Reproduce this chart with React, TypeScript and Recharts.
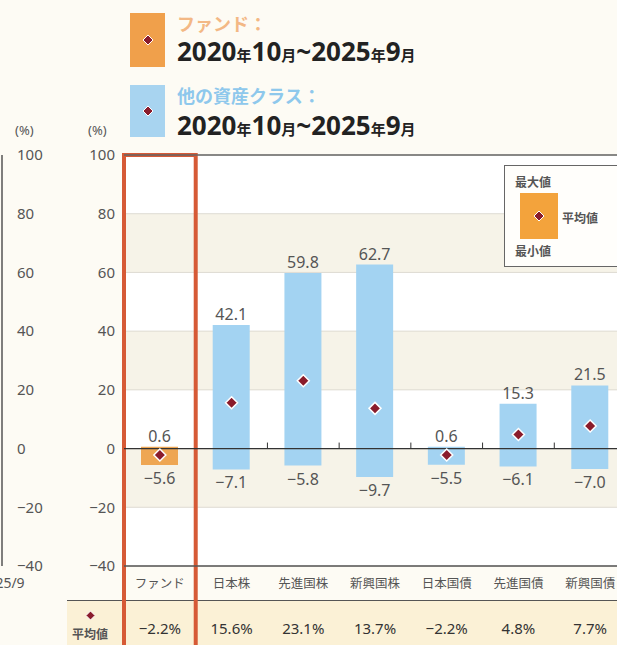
import React from "react";
import {
  ComposedChart,
  Bar,
  Line,
  XAxis,
  YAxis,
  CartesianGrid,
  ReferenceLine,
  ReferenceArea,
  LabelList,
  Cell,
} from "recharts";

// 5年間の騰落率（最大値・最小値・平均値）
const categories = ["ファンド", "日本株", "先進国株", "新興国株", "日本国債", "先進国債", "新興国債"];
const maxValues = [0.6, 42.1, 59.8, 62.7, 0.6, 15.3, 21.5];
const minValues = [-5.6, -7.1, -5.8, -9.7, -5.5, -6.1, -7.0];
const avgValues = [-2.2, 15.6, 23.1, 13.7, -2.2, 4.8, 7.7];
const yTicks = [-40, -20, 0, 20, 40, 60, 80, 100];
// 左隣のグラフ（切れている部分）の最終月
const prevMonths = ["2025/7", "2025/8", "2025/9"];

const FUND_COLOR = "#eea653";
const ASSET_COLOR = "#a3d3f2";
const DOT_COLOR = "#8a1c2c";
const FRAME_COLOR = "#d65a36";
const FONT = '"Noto Sans", "Noto Sans CJK JP", sans-serif';

const data = categories.map((name, i) => ({
  name,
  range: [minValues[i], maxValues[i]],
  avg: avgValues[i],
}));
const prevData = prevMonths.map((month) => ({ month }));

const fmt = (v: number) => (v < 0 ? "−" + Math.abs(v).toFixed(1) : v.toFixed(1));
const fmtTick = (v: number) => (v < 0 ? "−" + Math.abs(v) : String(v));

function Diamond({ cx, cy, r = 6 }: any) {
  if (cx == null || cy == null) return null;
  return (
    <path
      d={`M${cx} ${cy - r} L${cx + r} ${cy} L${cx} ${cy + r} L${cx - r} ${cy} Z`}
      fill={DOT_COLOR}
      stroke="#fff"
      strokeWidth={1.5}
    />
  );
}

function RangeLabels(props: any) {
  const { x, y, width, height, index } = props;
  const top = Math.min(y, y + height);
  const bottom = Math.max(y, y + height);
  const cx = x + width / 2;
  return (
    <g fontSize={16} fill="#555" textAnchor="middle">
      <text x={cx} y={top - 5}>{fmt(maxValues[index])}</text>
      <text x={cx} y={bottom + 19}>{fmt(minValues[index])}</text>
    </g>
  );
}

function ZeroTicks(props: any) {
  const { viewBox } = props;
  if (!viewBox) return null;
  const { x, y, width } = viewBox;
  const step = width / categories.length;
  const ticks = [];
  for (let i = 2; i < categories.length; i++) {
    ticks.push(<line key={i} x1={x + i * step} x2={x + i * step} y1={y - 6} y2={y} stroke="#333" strokeWidth={1} />);
  }
  return <g>{ticks}</g>;
}

function FundFrame(props: any) {
  const { x, y, width } = props;
  return (
    <rect x={x} y={y} width={width} height={645 - y + 10} fill="none" stroke={FRAME_COLOR} strokeWidth={4} />
  );
}

function SmallDiamond({ left, top, size = 10 }: { left: number; top: number; size?: number }) {
  return (
    <svg style={{ position: "absolute", left: left - size / 2, top: top - size / 2 }} width={size} height={size}>
      <path
        d={`M${size / 2} 0 L${size} ${size / 2} L${size / 2} ${size} L0 ${size / 2} Z`}
        fill={DOT_COLOR}
        stroke="#fff"
        strokeWidth={1}
      />
    </svg>
  );
}

function DateLine({ top }: { top: number }) {
  const big = { fontSize: 26, fontWeight: 700 };
  const small = { fontSize: 15, fontWeight: 700 };
  return (
    <div style={{ position: "absolute", left: 177, top, color: "#222", whiteSpace: "nowrap", lineHeight: "30px" }}>
      <span style={big}>2020</span>
      <span style={small}>年</span>
      <span style={big}>10</span>
      <span style={small}>月</span>
      <span style={big}>~2025</span>
      <span style={small}>年</span>
      <span style={big}>9</span>
      <span style={small}>月</span>
    </div>
  );
}

export default function App() {
  return (
    <div
      style={{
        position: "absolute",
        left: 0,
        top: 0,
        width: 617,
        height: 645,
        overflow: "hidden",
        background: "#fdfbf4",
        fontFamily: FONT,
      }}
    >
      {/* 平均値の行 */}
      <div
        style={{
          position: "absolute",
          left: 67,
          top: 600,
          width: 560,
          height: 45,
          background: "#fbf1d6",
          borderTop: "1.5px solid #555",
        }}
      />
      <SmallDiamond left={90} top={615} size={9} />
      <div style={{ position: "absolute", left: 72, top: 625, fontSize: 12, color: "#555", fontWeight: 700 }}>平均値</div>

      {/* 左隣のグラフの軸 */}
      <div style={{ position: "absolute", left: -96, top: 0 }}>
        <ComposedChart width={156} height={645} data={prevData} margin={{ top: 155, right: 0, left: 0, bottom: 0 }}>
          <XAxis
            dataKey="month"
            height={79}
            axisLine={false}
            tickLine={false}
            ticks={["2025/9"]}
            interval={0}
            tickSize={0}
            tickMargin={12}
            tick={{ fontSize: 14, fill: "#555" }}
          />
          <YAxis
            type="number"
            orientation="right"
            width={58}
            domain={[-40, 100]}
            allowDataOverflow
            ticks={yTicks}
            tickFormatter={fmtTick}
            axisLine={{ stroke: "#555", strokeWidth: 1.5 }}
            tickLine={false}
            tickSize={0}
            tickMargin={15}
            tick={{ fontSize: 15, fill: "#555" }}
          />
        </ComposedChart>
      </div>
      <div style={{ position: "absolute", left: 15, top: 121, fontSize: 13, color: "#555" }}>(%)</div>
      <div style={{ position: "absolute", left: 88, top: 121, fontSize: 13, color: "#555" }}>(%)</div>

      {/* メインのグラフ */}
      <div style={{ position: "absolute", left: 0, top: 0 }}>
        <ComposedChart width={640} height={645} data={data} margin={{ top: 155, right: 14, left: 0, bottom: 0 }} barCategoryGap={0}>
          <CartesianGrid
            vertical={false}
            stroke="#dedbd2"
            horizontalFill={["#ffffff", "#f6f3e8"]}
            fillOpacity={1}
          />
          <XAxis
            dataKey="name"
            height={34}
            axisLine={{ stroke: "#555", strokeWidth: 1.5 }}
            tickLine={false}
            tickSize={0}
            tickMargin={13}
            interval={0}
            tick={{ fontSize: 12.5, fill: "#555" }}
          />
          <XAxis
            xAxisId="avg"
            dataKey="name"
            height={45}
            axisLine={false}
            tickLine={false}
            tickSize={0}
            tickMargin={23}
            interval={0}
            tick={{ fontSize: 15, fill: "#333" }}
            tickFormatter={(name: string) => fmt(avgValues[categories.indexOf(name)]) + "%"}
          />
          <YAxis
            width={124}
            domain={[-40, 100]}
            ticks={yTicks}
            tickFormatter={fmtTick}
            axisLine={false}
            tickLine={false}
            tickSize={0}
            tickMargin={9}
            tick={{ fontSize: 15, fill: "#555" }}
          />
          <ReferenceLine y={100} stroke="#666" strokeWidth={1.5} />
          <ReferenceLine y={0} stroke="#333" strokeWidth={1.3} label={(p: any) => <ZeroTicks {...p} />} />
          <Bar dataKey="range" barSize={37} isAnimationActive={false}>
            {data.map((d, i) => (
              <Cell key={d.name} fill={i === 0 ? FUND_COLOR : ASSET_COLOR} />
            ))}
            <LabelList dataKey="range" content={(p: any) => <RangeLabels {...p} />} />
          </Bar>
          <Line
            dataKey="avg"
            stroke="none"
            dot={(p: any) => <Diamond key={p.index} cx={p.cx} cy={p.cy} />}
            activeDot={false}
            isAnimationActive={false}
          />
          <ReferenceArea x1="ファンド" x2="ファンド" ifOverflow="visible" shape={(p: any) => <FundFrame {...p} />} />
        </ComposedChart>
      </div>

      {/* 上部の凡例 */}
      <div style={{ position: "absolute", left: 130, top: 13, width: 35, height: 54, background: "#f0a04b" }} />
      <SmallDiamond left={147.5} top={40} size={10} />
      <div style={{ position: "absolute", left: 177, top: 10, fontSize: 18, fontWeight: 700, color: "#f3b885" }}>ファンド：</div>
      <DateLine top={36} />
      <div style={{ position: "absolute", left: 130, top: 85, width: 35, height: 52, background: "#a8d4f0" }} />
      <SmallDiamond left={147.5} top={111} size={10} />
      <div style={{ position: "absolute", left: 177, top: 82, fontSize: 18, fontWeight: 700, color: "#8ec8ec" }}>他の資産クラス：</div>
      <DateLine top={110} />

      {/* 最大値・平均値・最小値の説明 */}
      <div
        style={{
          position: "absolute",
          left: 504,
          top: 165,
          width: 130,
          height: 100,
          background: "#fffefb",
          border: "1.5px solid #666",
        }}
      />
      <div style={{ position: "absolute", left: 515, top: 173, fontSize: 12, fontWeight: 700, color: "#555" }}>最大値</div>
      <div style={{ position: "absolute", left: 520, top: 193, width: 38, height: 46, background: "#f3a33c" }} />
      <SmallDiamond left={539} top={216} size={10} />
      <div style={{ position: "absolute", left: 562, top: 209, fontSize: 12, fontWeight: 700, color: "#555" }}>平均値</div>
      <div style={{ position: "absolute", left: 515, top: 242, fontSize: 12, fontWeight: 700, color: "#555" }}>最小値</div>
    </div>
  );
}
